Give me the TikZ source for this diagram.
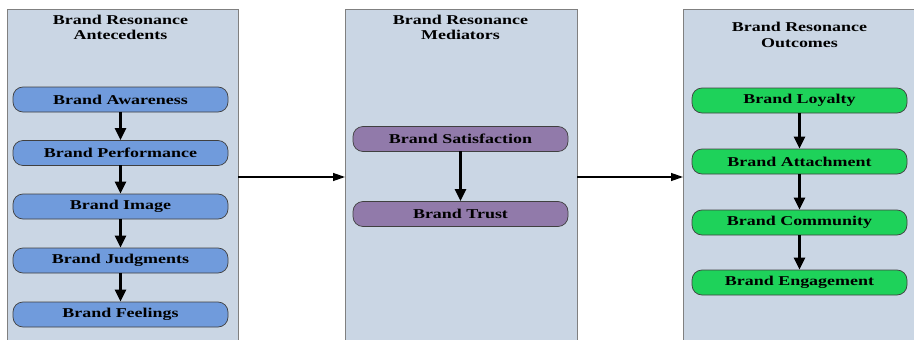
\documentclass[tikz,border=0pt]{standalone}
\usepackage{fontspec}
\setmainfont{Liberation Serif}
\newfontfamily\wideserif[FakeStretch=1.33]{Liberation Serif}
\usepackage{tikz}
\usetikzlibrary{arrows.meta}

\definecolor{panelfill}{RGB}{202,214,228}
\definecolor{antefill}{RGB}{112,155,220}
\definecolor{medfill}{RGB}{145,122,170}
\definecolor{outfill}{RGB}{30,210,90}

\begin{document}
\begin{tikzpicture}[x=1pt,y=-1pt,
		panel/.style={draw=black!50,line width=0.8pt,fill=panelfill,inner sep=0pt,outer sep=0pt},
		box/.style={draw=black!75,line width=0.7pt,rounded corners=10pt,minimum width=215pt,minimum height=25pt,inner sep=0pt,
			font=\wideserif\bfseries\fontsize{13.5}{15}\selectfont},
		heading/.style={align=center,inner sep=0pt,font=\wideserif\bfseries\fontsize{13.5}{15.5}\selectfont},
		flow/.style={-{Triangle[length=12pt,width=11pt]},line width=2.3pt,shorten <=-0.5pt},
		link/.style={-{Triangle[length=12pt,width=8pt]},line width=1.3pt}]
	\useasboundingbox (0,0) rectangle (914,340);
	\clip (0,0) rectangle (914,340);
	
	% panels
	\node[panel,minimum width=231pt,minimum height=336pt] (P1) at (122.5,177) {};
	\node[panel,minimum width=232pt,minimum height=336pt] (P2) at (461,177) {};
	\node[panel,minimum width=237pt,minimum height=336pt] (P3) at (801.5,177) {};
	
	\node[heading] (H1) at (120.5,27.5) {Brand Resonance\\Antecedents};
	\node[heading] (H2) at (460.5,27.5) {Brand Resonance\\Mediators};
	\node[heading] (H3) at (799.5,35) {Brand Resonance\\Outcomes};
	
	% antecedents
	\node[box,fill=antefill] (A1) at (120.5,99.5) {Brand Awareness};
	\node[box,fill=antefill] (A2) at (120.5,153) {Brand Performance};
	\node[box,fill=antefill] (A3) at (120.5,206.5) {Brand Image};
	\node[box,fill=antefill] (A4) at (120.5,260.5) {Brand Judgments};
	\node[box,fill=antefill] (A5) at (120.5,314.5) {Brand Feelings};
	\foreach \i in {1,...,4} {
		\pgfmathtruncatemacro{\j}{\i + 1}
		\draw[flow] (A\i) -- (A\j);
	}
	
	% mediators
	\node[box,fill=medfill] (M1) at (460.5,139) {Brand Satisfaction};
	\node[box,fill=medfill] (M2) at (460.5,214) {Brand Trust};
	\draw[flow] (M1) -- (M2);
	
	% outcomes
	\node[box,fill=outfill] (O1) at (799.5,100.5) {Brand Loyalty};
	\node[box,fill=outfill] (O2) at (799.5,161.5) {Brand Attachment};
	\node[box,fill=outfill] (O3) at (799.5,222.5) {Brand Community};
	\node[box,fill=outfill] (O4) at (799.5,282.5) {Brand Engagement};
	\foreach \i in {1,...,3} {
		\pgfmathtruncatemacro{\j}{\i + 1}
		\draw[flow] (O\i) -- (O\j);
	}
	
	\draw[link] (P1.east) -- (P2.west);
	\draw[link] (P2.east) -- (P3.west);
	
\end{tikzpicture}
\end{document}
